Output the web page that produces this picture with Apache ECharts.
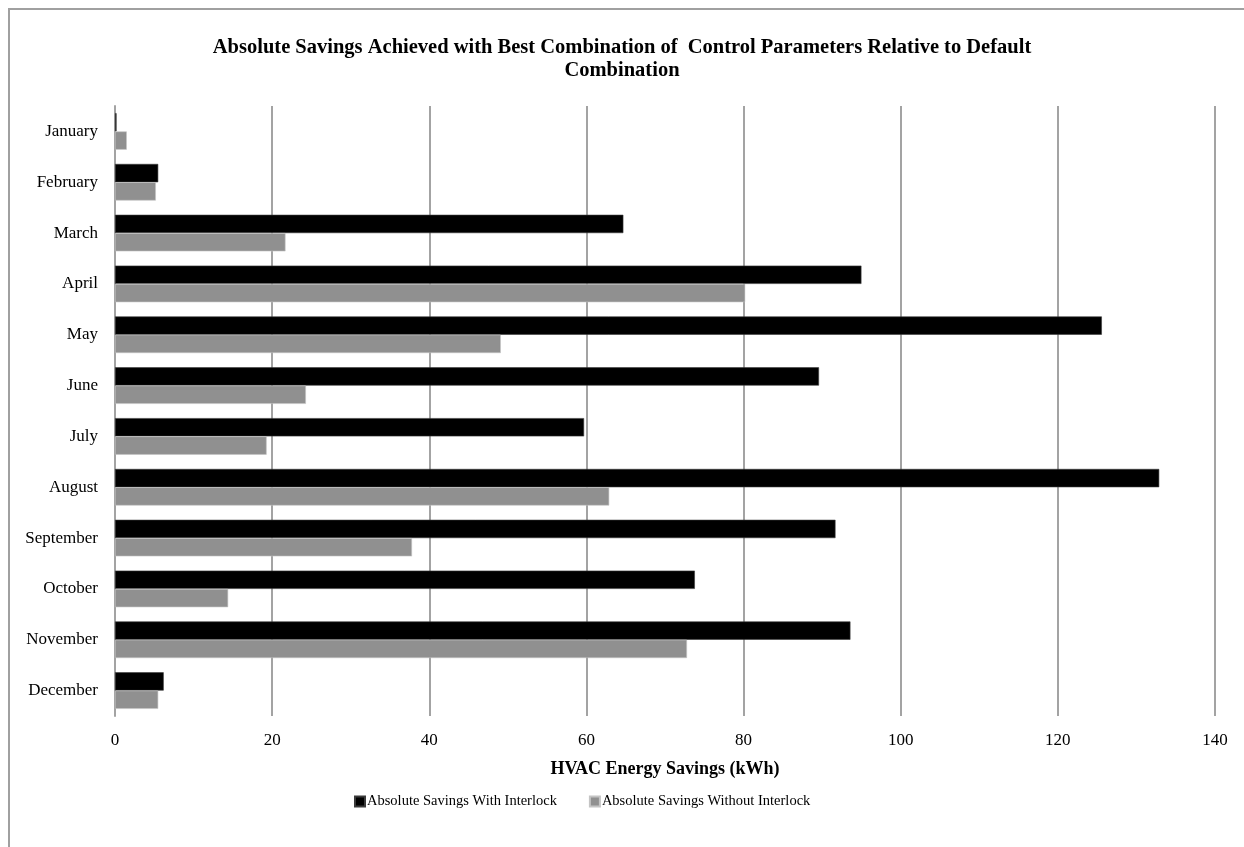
<!DOCTYPE html>
<html>
<head>
<meta charset="utf-8">
<title>Absolute Savings Achieved with Best Combination of Control Parameters</title>
<script src="https://cdn.jsdelivr.net/npm/echarts@6/dist/echarts.min.js"></script>
<style>
  html, body { margin: 0; padding: 0; background: #ffffff; }
  #chart { width: 1244px; height: 847px; }
</style>
</head>
<body>
<div id="chart"></div>
<script>
// Months shown on the vertical axis, top to bottom
const months = ['January', 'February', 'March', 'April', 'May', 'June',
                'July', 'August', 'September', 'October', 'November', 'December'];

// Monthly HVAC energy savings (kWh)
const savingsWithInterlock    = [0.2, 5.5, 64.7, 95.0, 125.6, 89.6, 59.7, 132.9, 91.7, 73.8, 93.6, 6.2];
const savingsWithoutInterlock = [1.5, 5.2, 21.7, 80.2, 49.1, 24.3, 19.3, 62.9, 37.8, 14.4, 72.8, 5.5];

const seriesNames = ['Absolute Savings With Interlock', 'Absolute Savings Without Interlock'];

// Horizontal axis range
const xMin = 0, xMax = 140, xStep = 20;

const serif = '"Liberation Serif", "DejaVu Serif", serif';
const gridGrey = '#a3a3a3';

const chart = echarts.init(document.getElementById('chart'), null, { renderer: 'canvas' });

chart.setOption({
  backgroundColor: '#ffffff',
  animation: false,
  title: {
    text: 'Absolute Savings Achieved with Best Combination of  Control Parameters Relative to Default\nCombination',
    left: 'center',
    top: 31,
    textStyle: {
      fontFamily: serif,
      fontWeight: 'bold',
      fontSize: 20.5,
      color: '#000000',
      lineHeight: 23
    }
  },
  graphic: [{
    type: 'rect',
    shape: { x: 9, y: 9, width: 1300, height: 900 },
    style: { fill: 'none', stroke: '#a0a0a0', lineWidth: 2 },
    silent: true,
    z: 0
  }],
  legend: {
    data: seriesNames,
    top: 789,
    left: 349,
    icon: 'rect',
    itemWidth: 10,
    itemHeight: 10,
    itemGap: 32,
    textStyle: { fontFamily: serif, fontSize: 14.5, color: '#000000', padding: [0, 0, 0, -3] }
  },
  grid: {
    left: 115,
    right: 29,
    top: 106,
    bottom: 131,
    containLabel: false
  },
  xAxis: {
    type: 'value',
    min: xMin,
    max: xMax,
    interval: xStep,
    name: 'HVAC Energy Savings (kWh)',
    nameLocation: 'middle',
    nameGap: 44,
    nameTextStyle: { fontFamily: serif, fontWeight: 'bold', fontSize: 18, color: '#000000' },
    axisLine: { show: false },
    axisTick: { show: false },
    axisLabel: { fontFamily: serif, fontSize: 17, color: '#000000', margin: 16 },
    splitLine: { show: true, lineStyle: { color: gridGrey, width: 2 } }
  },
  yAxis: {
    type: 'category',
    data: months,
    inverse: true,
    axisLine: { show: true, lineStyle: { color: gridGrey, width: 2 } },
    axisTick: { show: false },
    axisLabel: { fontFamily: serif, fontSize: 17, color: '#000000', margin: 17 },
    splitLine: { show: false }
  },
  series: [
    {
      name: seriesNames[0],
      type: 'bar',
      data: savingsWithInterlock,
      barGap: '0%',
      barCategoryGap: '28%',
      itemStyle: { color: '#000000', borderColor: '#3a3a3a', borderWidth: 0.6 }
    },
    {
      name: seriesNames[1],
      type: 'bar',
      data: savingsWithoutInterlock,
      barGap: '0%',
      barCategoryGap: '28%',
      itemStyle: { color: '#909090', borderColor: '#c4c4c4', borderWidth: 0.6 }
    }
  ]
});
</script>
</body>
</html>
